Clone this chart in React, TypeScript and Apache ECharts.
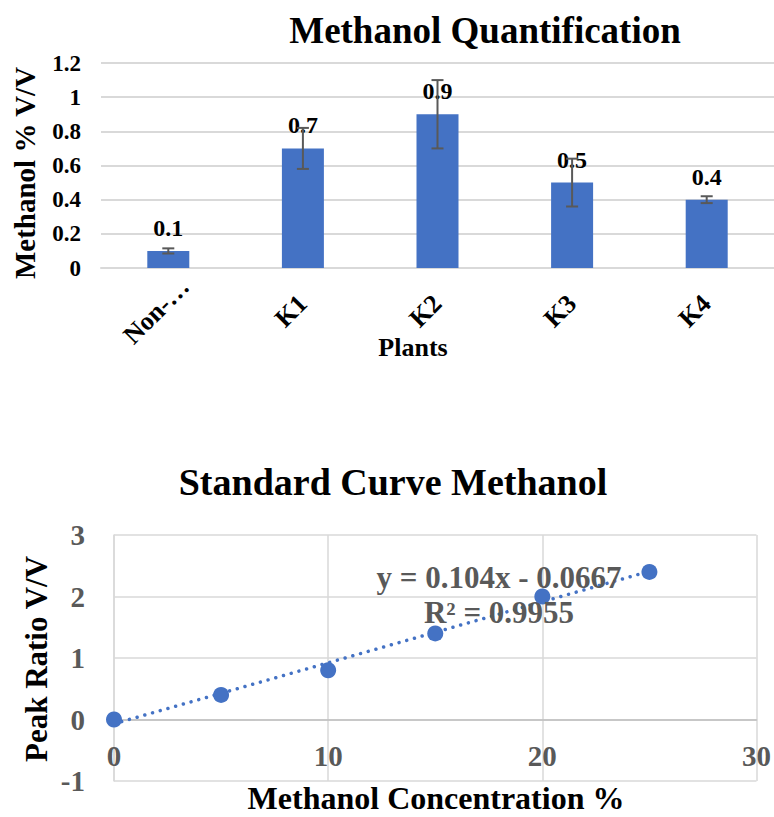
import React, { useEffect, useRef } from "react";
import * as echarts from "echarts";

// ---- Top chart data ----
const categories = ["Non-…", "K1", "K2", "K3", "K4"];
const methanolValues = [0.1, 0.7, 0.9, 0.5, 0.4];
const methanolErrors = [0.015, 0.12, 0.2, 0.14, 0.02];

// ---- Bottom chart data ----
const concentration = [0, 5, 10, 15, 20, 25];
const peakRatio = [0, 0.4, 0.8, 1.4, 2.0, 2.4];
const trendX = [0, 25];
const trendY = [-0.07, 2.41];
const equationLines = ["y = 0.104x - 0.0667", "R² = 0.9955"];

const FONT = '"Liberation Serif", "Times New Roman", serif';
const GRID_COLOR = "#D9D9D9";
const BLUE = "#4472C4";
const GREY_TEXT = "#595959";

export default function App() {
  const ref = useRef<HTMLDivElement>(null);

  useEffect(() => {
    document.body.style.margin = "0";
    if (!ref.current) return;
    const chart = echarts.init(ref.current, null, { renderer: "svg" });

    const errorData = methanolValues.map((v, i) => [i, v - methanolErrors[i], v + methanolErrors[i]]);

    const option: any = {
      animation: false,
      backgroundColor: "#ffffff",
      textStyle: { fontFamily: FONT },
      grid: [
        { left: 101, top: 63, width: 675, height: 205, containLabel: false },
        { left: 114, top: 535, width: 643, height: 246, containLabel: false },
      ],
      xAxis: [
        {
          gridIndex: 0,
          type: "category",
          data: categories,
          boundaryGap: true,
          axisLine: { show: true, lineStyle: { color: GRID_COLOR, width: 2 } },
          axisTick: { show: false },
          axisLabel: {
            interval: 0,
            rotate: 45,
            align: "center",
            verticalAlign: "middle",
            margin: 31,
            padding: [0, 34, 0, 0],
            fontSize: 26,
            fontWeight: "bold",
            color: "#000",
            fontFamily: FONT,
          },
          splitLine: { show: false },
        },
        {
          gridIndex: 1,
          type: "value",
          min: 0,
          max: 30,
          interval: 10,
          offset: -61.5,
          axisLine: { show: true, onZero: false, lineStyle: { color: "#BFBFBF", width: 1.5 } },
          axisTick: { show: false },
          axisLabel: {
            margin: 22,
            fontSize: 29,
            fontWeight: "bold",
            color: GREY_TEXT,
            fontFamily: FONT,
          },
          splitLine: { show: true, lineStyle: { color: GRID_COLOR, width: 1.5 } },
        },
      ],
      yAxis: [
        {
          gridIndex: 0,
          type: "value",
          min: 0,
          max: 1.2,
          interval: 0.2,
          axisLine: { show: false },
          axisTick: { show: false },
          axisLabel: {
            margin: 20,
            fontSize: 23,
            fontWeight: "bold",
            color: "#000",
            fontFamily: FONT,
          },
          splitLine: { show: true, lineStyle: { color: GRID_COLOR, width: 2 } },
        },
        {
          gridIndex: 1,
          type: "value",
          min: -1,
          max: 3,
          interval: 1,
          axisLine: { show: true, onZero: false, lineStyle: { color: GRID_COLOR, width: 1.5 } },
          axisTick: { show: false },
          axisLabel: {
            margin: 29,
            fontSize: 29,
            fontWeight: "bold",
            color: GREY_TEXT,
            fontFamily: FONT,
          },
          splitLine: { show: true, lineStyle: { color: GRID_COLOR, width: 1.5 } },
        },
      ],
      series: [
        {
          type: "bar",
          xAxisIndex: 0,
          yAxisIndex: 0,
          data: methanolValues,
          barWidth: 42,
          itemStyle: { color: BLUE },
          z: 2,
          label: {
            show: true,
            position: "top",
            distance: 11,
            fontSize: 24,
            fontWeight: "bold",
            color: "#000",
            fontFamily: FONT,
          },
        },
        {
          type: "custom",
          xAxisIndex: 0,
          yAxisIndex: 0,
          z: 5,
          data: errorData,
          renderItem: (params: any, api: any) => {
            const x = api.value(0);
            const lo = api.coord([x, api.value(1)]);
            const hi = api.coord([x, api.value(2)]);
            const hw = 6;
            const style = { stroke: "#595959", lineWidth: 2 };
            return {
              type: "group",
              children: [
                { type: "line", shape: { x1: lo[0], y1: hi[1], x2: lo[0], y2: lo[1] }, style },
                { type: "line", shape: { x1: lo[0] - hw, y1: hi[1], x2: lo[0] + hw, y2: hi[1] }, style },
                { type: "line", shape: { x1: lo[0] - hw, y1: lo[1], x2: lo[0] + hw, y2: lo[1] }, style },
              ],
            };
          },
        },
        {
          type: "line",
          xAxisIndex: 1,
          yAxisIndex: 1,
          data: trendX.map((x, i) => [x, trendY[i]]),
          symbol: "none",
          lineStyle: { color: BLUE, width: 3.5, type: [0.01, 8], cap: "round" },
          z: 2,
        },
        {
          type: "scatter",
          xAxisIndex: 1,
          yAxisIndex: 1,
          data: concentration.map((x, i) => [x, peakRatio[i]]),
          symbol: "circle",
          symbolSize: 16,
          itemStyle: { color: BLUE, opacity: 1 },
          z: 3,
        },
      ],
      graphic: [
        {
          type: "text",
          x: 485,
          y: 30,
          z: 10,
          style: { text: "Methanol Quantification", fill: "#000", font: `bold 37px ${FONT}`, align: "center", verticalAlign: "middle" },
        },
        {
          type: "text",
          x: 25,
          y: 173,
          rotation: Math.PI / 2,
          z: 10,
          style: { text: "Methanol % V/V", fill: "#000", font: `bold 29px ${FONT}`, align: "center", verticalAlign: "middle" },
        },
        {
          type: "text",
          x: 413,
          y: 347,
          z: 10,
          style: { text: "Plants", fill: "#000", font: `bold 26px ${FONT}`, align: "center", verticalAlign: "middle" },
        },
        {
          type: "text",
          x: 393,
          y: 482,
          z: 10,
          style: { text: "Standard Curve Methanol", fill: "#000", font: `bold 38px ${FONT}`, align: "center", verticalAlign: "middle" },
        },
        {
          type: "text",
          x: 36,
          y: 659,
          rotation: Math.PI / 2,
          z: 10,
          style: { text: "Peak Ratio V/V", fill: "#000", font: `bold 31px ${FONT}`, align: "center", verticalAlign: "middle" },
        },
        {
          type: "text",
          x: 436,
          y: 798,
          z: 10,
          style: { text: "Methanol Concentration %", fill: "#000", font: `bold 32px ${FONT}`, align: "center", verticalAlign: "middle" },
        },
        {
          type: "text",
          x: 499,
          y: 577,
          z: 10,
          style: { text: equationLines[0], fill: GREY_TEXT, font: `bold 31px ${FONT}`, align: "center", verticalAlign: "middle" },
        },
        {
          type: "text",
          x: 499,
          y: 612,
          z: 10,
          style: { text: equationLines[1], fill: GREY_TEXT, font: `bold 31px ${FONT}`, align: "center", verticalAlign: "middle" },
        },
      ],
    };

    chart.setOption(option);
    return () => chart.dispose();
  }, []);

  return <div ref={ref} style={{ width: 774, height: 817 }} />;
}
